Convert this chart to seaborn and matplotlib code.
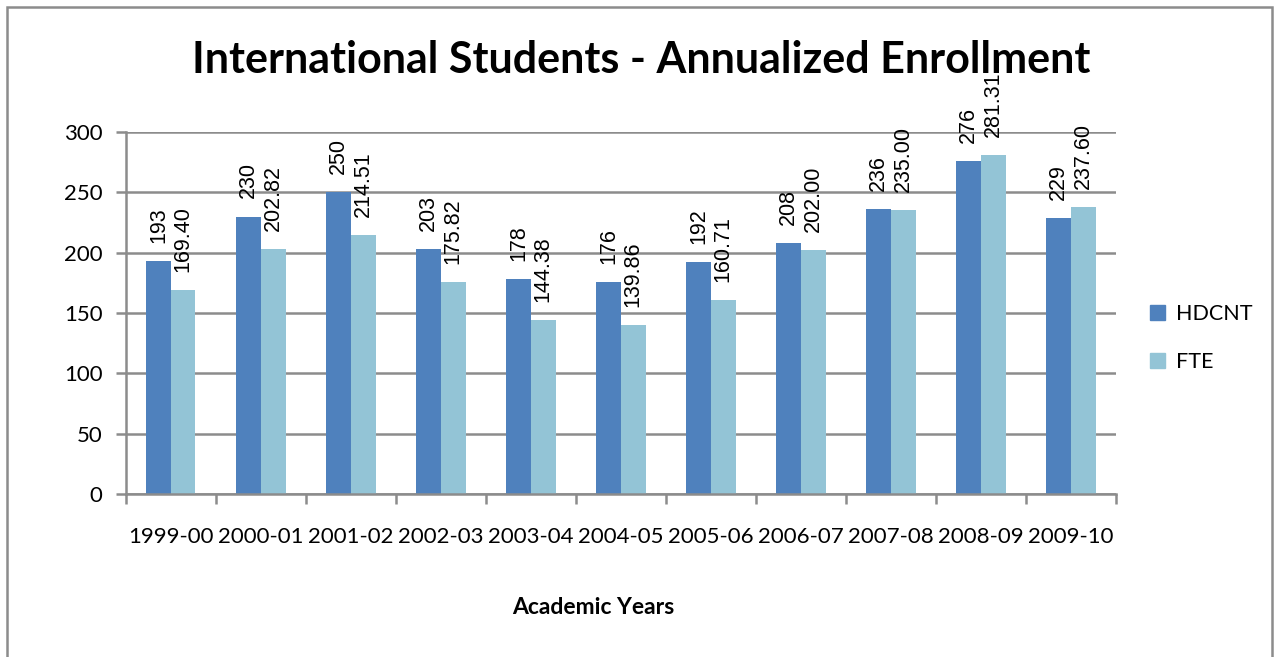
import numpy as np
import pandas as pd
import matplotlib
matplotlib.use("Agg")
import matplotlib.pyplot as plt
import seaborn as sns
from matplotlib.patches import Rectangle

# data
years = ["1999-00", "2000-01", "2001-02", "2002-03", "2003-04", "2004-05",
         "2005-06", "2006-07", "2007-08", "2008-09", "2009-10"]
hdcnt = [193, 230, 250, 203, 178, 176, 192, 208, 236, 276, 229]
fte = [169.40, 202.82, 214.51, 175.82, 144.38, 139.86, 160.71, 202.00, 235.00, 281.31, 237.60]
series = ["HDCNT", "FTE"]
colors = ["#4F81BD", "#93C4D6"]

df = pd.DataFrame({
    "Year": years * 2,
    "Value": hdcnt + fte,
    "Series": [series[0]] * len(years) + [series[1]] * len(years),
})

sns.set_theme(style="white")
plt.rcParams["font.family"] = ["Lato", "DejaVu Sans"]
plt.rcParams["text.color"] = "black"
plt.rcParams["xtick.labelcolor"] = "black"
plt.rcParams["ytick.labelcolor"] = "black"

fig = plt.figure(figsize=(12.75, 6.57), dpi=100)
ax = fig.add_axes([0.0988, 0.2481, 0.7765, 0.5509])

sns.barplot(data=df, x="Year", y="Value", hue="Series", order=years,
            hue_order=series, palette=colors, width=0.545, gap=0,
            saturation=1, linewidth=0, ax=ax, legend=False)

# value labels (rotated, as in the Excel original)
for cont, fmt in zip(ax.containers, ["{:.0f}", "{:.2f}"]):
    ax.bar_label(cont, labels=[fmt.format(v) for v in cont.datavalues],
                 rotation=90, padding=13, fontsize=15.5,
                 family=["Liberation Sans", "DejaVu Sans"], color="black")

ax.set_ylim(0, 300)
ax.set_xlim(-0.5, len(years) - 0.5)
ax.set_yticks(np.arange(0, 301, 50))
ax.yaxis.grid(True, color="#8c8c8c", linewidth=1.8)
ax.set_axisbelow(True)

# category boundary ticks, labels at centers
ax.set_xticks(np.arange(-0.5, len(years), 1))
ax.set_xticklabels([])
ax.set_xticks(np.arange(len(years)), minor=True)
ax.set_xticklabels(years, minor=True, fontsize=16)
ax.tick_params(axis="x", which="major", direction="out", length=7,
               width=1.8, color="#8c8c8c", bottom=True)
ax.tick_params(axis="x", which="minor", length=0, pad=24)
ax.tick_params(axis="y", direction="out", length=7, width=1.8,
               color="#8c8c8c", left=True, labelsize=16, pad=10)

for side in ["top", "right"]:
    ax.spines[side].set_visible(False)
for side in ["left", "bottom"]:
    ax.spines[side].set_color("#8c8c8c")
    ax.spines[side].set_linewidth(1.8)

ax.set_xlabel("")
ax.set_ylabel("")

fig.text(0.503, 0.908, "International Students - Annualized Enrollment",
         ha="center", va="center", fontsize=31, fontweight="bold")
fig.text(0.465, 0.076, "Academic Years", ha="center", va="center",
         fontsize=16.5, fontweight="bold")

handles = [Rectangle((0, 0), 1, 1, color=c) for c in colors]
fig.legend(handles, series, loc="center left",
           bbox_to_anchor=(0.887, 0.486), frameon=False, fontsize=15.5,
           handlelength=0.7, handleheight=0.7, handletextpad=0.5,
           labelspacing=1.3)

# outer chart frame
fig.patches.append(Rectangle((0.0055, -0.05), 0.9921, 1.0393,
                             transform=fig.transFigure, fill=False,
                             edgecolor="#8c8c8c", linewidth=1.8))

fig.savefig("out.png", dpi=100)
